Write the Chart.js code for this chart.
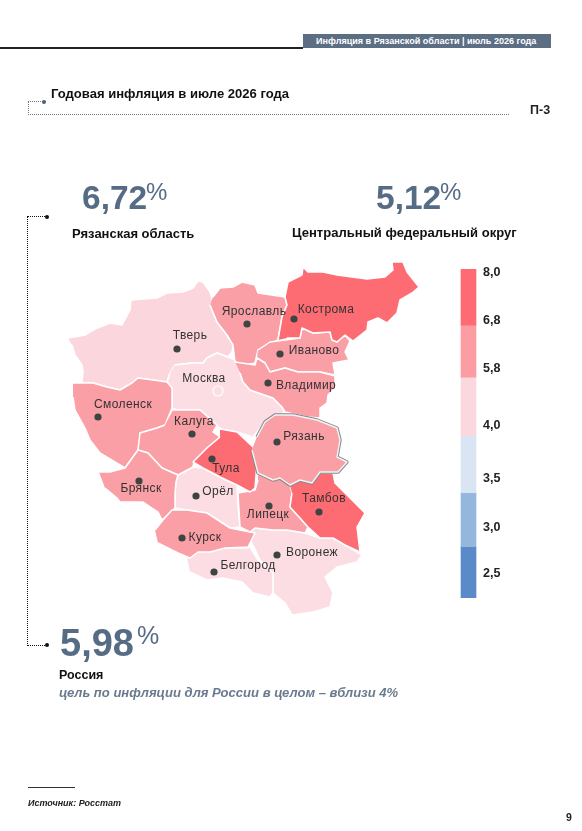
<!DOCTYPE html>
<html lang="ru"><head><meta charset="utf-8">
<script src="https://cdn.jsdelivr.net/npm/chart.js@4"></script>
<style>
html,body{margin:0;padding:0;background:#fff}
body{width:582px;height:831px;position:relative;overflow:hidden;font-family:"Liberation Sans",Arial,sans-serif}
.t{position:absolute;white-space:nowrap;line-height:1}
.r{position:absolute}
canvas{position:absolute;display:block}
.big{font-weight:700;color:#566c85}
.dot{position:absolute;border-radius:50%}
</style></head><body>
<canvas id="map" width="582" height="831" style="left:0;top:0"></canvas>
<canvas id="scale" width="60" height="400" style="left:459px;top:235px"></canvas>

<div class="r" style="left:0;top:47px;width:303px;height:1.5px;background:#222"></div>
<div class="r" style="left:303px;top:34px;width:248px;height:14px;background:#5b6e84"></div>
<div class="t" style="left:316px;top:36.5px;font-size:9.05px;font-weight:700;color:#fff">Инфляция в Рязанской области | июль 2026 года</div>

<div class="t" style="left:51px;top:86.5px;font-size:13.05px;font-weight:700;color:#111">Годовая инфляция в июле 2026 года</div>
<div class="t" style="left:530px;top:104px;font-size:12.5px;font-weight:700;color:#222">П-3</div>
<div class="r" style="left:28px;top:101px;width:480px;height:13px;border-left:1px dotted #777;border-bottom:1px dotted #777"></div>
<div class="r" style="left:28px;top:101px;width:15px;border-top:1px dotted #777"></div>
<div class="dot" style="left:42px;top:99.5px;width:4px;height:4px;background:#4a5f78"></div>

<div class="t big" style="left:82px;top:181px;font-size:33.5px">6,72</div>
<div class="t big" style="left:146px;top:180px;font-size:24px;font-weight:400">%</div>
<div class="t big" style="left:376px;top:181px;font-size:33.5px">5,12</div>
<div class="t big" style="left:440px;top:180px;font-size:24px;font-weight:400">%</div>
<div class="t" style="left:72px;top:227px;font-size:13px;font-weight:700;color:#111">Рязанская область</div>
<div class="t" style="left:292px;top:226px;font-size:13.05px;font-weight:700;color:#111">Центральный федеральный округ</div>

<div class="r" style="left:27px;top:216px;width:19px;height:428px;border-left:1px dotted #111;border-top:1px dotted #111;border-bottom:1px dotted #111"></div>
<div class="dot" style="left:45px;top:214.5px;width:4px;height:4px;background:#111"></div>
<div class="dot" style="left:45px;top:642.5px;width:4px;height:4px;background:#111"></div>

<div class="t big" style="left:60px;top:624px;font-size:38px">5,98</div>
<div class="t big" style="left:137px;top:623px;font-size:25px;font-weight:400">%</div>
<div class="t" style="left:59px;top:669px;font-size:12.5px;font-weight:700;color:#111">Россия</div>
<div class="t" style="left:59px;top:686px;font-size:13.05px;font-weight:700;font-style:italic;color:#6a7a8e">цель по инфляции для России в целом – вблизи 4%</div>

<div class="r" style="left:28px;top:787px;width:47px;height:1px;background:#333"></div>
<div class="t" style="left:28px;top:799px;font-size:9px;font-weight:700;font-style:italic;color:#222">Источник: Росстат</div>
<div class="t" style="left:566px;top:812px;font-size:10.5px;font-weight:700;color:#222">9</div>

<script>
/* ---------- data: region outlines in map units ---------- */
const outlineTver=[[68,338],[85,335],[95,329],[110,323],[122,325],[130,310],[131,300],[143,299],[157,298],[167,293],[183,292],[193,288],[198,281],[203,282],[210,292],[213,302],[210,305],[217,322],[227,335],[233,345],[232,352],[228,357],[217,353],[207,358],[203,363],[192,363],[175,365],[170,373],[167,382],[153,380],[138,378],[132,383],[120,390],[107,387],[93,383],[82,383],[83,372],[82,365],[75,355],[72,345]];
const outlineYaroslavl=[[213,297],[220,288],[233,287],[242,282],[255,285],[258,293],[285,297],[287,305],[282,317],[278,340],[258,350],[255,363],[245,365],[235,362],[233,345],[227,335],[217,322],[210,305]];
const outlineKostroma=[[278,340],[282,317],[287,305],[285,297],[288,282],[302,275],[303,267],[308,272],[323,272],[337,275],[352,277],[367,279],[385,277],[393,270],[392,262],[403,262],[407,272],[419,287],[412,293],[400,300],[397,313],[387,323],[378,318],[368,322],[367,330],[353,341],[345,335],[337,342],[332,340],[330,332],[313,333],[302,328],[300,338],[287,338]];
const outlineIvanovo=[[258,350],[270,342],[300,338],[302,328],[313,333],[330,332],[332,340],[337,342],[345,335],[350,341],[345,352],[349,360],[333,363],[335,375],[320,372],[298,372],[285,368],[270,372],[265,363],[257,358]];
const outlineVladimir=[[235,362],[255,365],[257,358],[265,363],[270,372],[285,368],[298,372],[320,372],[335,376],[335,388],[328,395],[327,403],[320,408],[320,418],[307,417],[285,412],[282,407],[273,398],[250,390],[243,382],[240,373]];
const outlineMoscow=[[175,365],[192,363],[203,363],[207,358],[217,353],[228,357],[235,360],[240,373],[243,382],[250,390],[273,398],[282,407],[285,412],[265,422],[253,437],[237,432],[220,429],[217,425],[200,410],[177,410],[172,408],[172,388],[167,382],[170,373]];
const outlineSmolensk=[[73,383],[93,383],[107,387],[120,390],[132,383],[138,378],[153,380],[167,382],[172,388],[172,408],[165,425],[157,428],[140,433],[140,437],[138,450],[125,468],[100,453],[90,440],[85,428],[75,410],[73,397]];
const outlineKaluga=[[173,410],[200,410],[217,425],[213,432],[220,437],[207,448],[194,462],[193,467],[178,475],[162,468],[148,453],[138,450],[140,433],[157,428],[165,425]];
const outlineTula=[[220,429],[237,432],[253,447],[257,463],[255,488],[250,492],[237,485],[220,477],[203,468],[193,462],[207,448],[220,437]];
const outlineRyazan=[[257,437],[265,422],[275,415],[293,415],[317,420],[337,428],[340,440],[337,457],[347,462],[338,472],[320,472],[312,483],[300,480],[290,485],[280,478],[273,480],[258,473],[252,450]];
const outlineTambov=[[290,485],[300,480],[312,483],[320,473],[333,473],[335,483],[365,513],[357,527],[360,552],[345,545],[333,538],[320,538],[308,527],[300,518],[290,507],[292,493]];
const outlineLipetsk=[[258,473],[273,480],[280,478],[290,485],[292,493],[290,507],[300,518],[308,527],[305,533],[287,530],[273,530],[255,528],[250,532],[240,527],[238,493],[255,490],[258,480]];
const outlineVoronezh=[[250,532],[255,528],[273,530],[287,530],[305,533],[320,538],[333,538],[345,545],[362,555],[357,562],[337,567],[325,577],[333,593],[330,607],[313,612],[292,615],[285,603],[273,593],[273,573],[260,560],[253,545]];
const outlineBelgorod=[[187,558],[198,552],[225,548],[247,548],[250,547],[258,560],[273,573],[273,593],[270,597],[253,593],[242,582],[223,578],[207,580],[190,572]];
const outlineKursk=[[155,530],[163,520],[172,510],[187,510],[207,513],[230,528],[255,533],[248,547],[225,548],[210,552],[198,552],[190,558],[178,553],[158,543]];
const outlineOrel=[[178,475],[193,467],[203,468],[220,477],[237,485],[238,507],[240,527],[230,528],[207,513],[187,510],[175,508],[175,493],[176,482]];
const outlineBryansk=[[99,472],[110,472],[125,468],[138,450],[148,453],[162,468],[178,475],[176,482],[175,493],[175,508],[162,520],[158,512],[143,502],[120,502],[117,498],[105,488]];

const regionOutlines=[outlineTver,outlineMoscow,outlineVoronezh,outlineBelgorod,outlineOrel,outlineYaroslavl,outlineIvanovo,outlineVladimir,outlineSmolensk,outlineKaluga,outlineBryansk,outlineKursk,outlineLipetsk,outlineKostroma,outlineTula,outlineTambov];
const regionBand=['mid','midLight','midLight','midLight','midLight','upper','upper','upper','upper','upper','upper','upper','upper','high','high','high'];

/* ---------- data: cities ---------- */
const cityNames=['Тверь','Смоленск','Калуга','Ярославль','Кострома','Иваново','Владимир','Рязань','Тула','Брянск','Орёл','Липецк','Тамбов','Курск','Воронеж','Белгород'];
const cityDots=[[177,349],[98,417],[192,434],[247,324],[294,319],[280,354],[268,383],[277,442],[212,459],[139,481],[196,496],[269,506],[319,512],[182,538],[277,555],[214,572]];
const cityLabelAt=[[190,336],[123,405],[194,422],[254,312],[326,310],[314,351],[306,386],[304,437],[226,469],[141,489],[218,492],[268,515],[324,499],[205,538],[312,553],[248,566]];
const capitalName='Москва';
const capitalLabelAt=[204,379];
const capitalRing=[218,391];

/* ---------- data: colour scale ---------- */
const scaleLabels=['8,0','6,8','5,8','4,0','3,5','3,0','2,5'];
const scaleBandEdges=[0,1.02,1.97,3.04,4.08,5.07,6];
const scaleLabelAt=[0.05,0.93,1.82,2.85,3.83,4.72,5.56];
const scaleBandColours=['#ff6b72','#fc9da4','#fbd7de','#dae5f4','#95b6dd','#5b8ac8'];

/* ---------- rendering ---------- */
const fills={high:'#fe6c73',upper:'#fa9fa6',mid:'#fbd6dd',midLight:'#fbdde3'};
const toPts=o=>o.map(p=>({x:p[0],y:p[1]}));
const base={showLine:true,fill:'shape',pointRadius:0,tension:0,borderJoinStyle:'round',clip:false};

const regionSets=regionOutlines.map((o,i)=>Object.assign({},base,{
  label:'r'+i,data:toPts(o),backgroundColor:fills[regionBand[i]],borderColor:'#fff',borderWidth:1.5,order:100-i}));
const ryazanSets=[
  Object.assign({},base,{label:'Рязань край',data:toPts(outlineRyazan),backgroundColor:fills.upper,borderColor:'#7f8b8d',borderWidth:3.4,order:20}),
  Object.assign({},base,{label:'Рязань',data:toPts(outlineRyazan),backgroundColor:fills.upper,borderColor:'#f4f4f4',borderWidth:1.4,order:19})
];
const dotSet={label:'города',data:toPts(cityDots),pointRadius:3.6,pointBackgroundColor:'#3c4543',pointBorderWidth:0,showLine:false,order:5};
const ringSet={label:'Москва',data:toPts([capitalRing]),pointRadius:5,pointBackgroundColor:'rgba(0,0,0,0)',pointBorderColor:'#fff',pointBorderWidth:1.2,showLine:false,order:6};

const labelPlugin={id:'cityLabels',afterDatasetsDraw(c){
  const g=c.ctx,x=c.scales.x,y=c.scales.y;
  g.save();g.font='12px "Liberation Sans",Arial,sans-serif';g.fillStyle='#333';g.textAlign='center';g.textBaseline='middle';
  if('letterSpacing' in g)g.letterSpacing='0.4px';
  cityNames.forEach((n,i)=>g.fillText(n,x.getPixelForValue(cityLabelAt[i][0]),y.getPixelForValue(cityLabelAt[i][1])));
  g.fillText(capitalName,x.getPixelForValue(capitalLabelAt[0]),y.getPixelForValue(capitalLabelAt[1]));
  g.restore();
}};

new Chart(document.getElementById('map'),{
  type:'scatter',
  data:{datasets:[...regionSets,...ryazanSets,ringSet,dotSet]},
  options:{responsive:false,animation:false,events:[],layout:{padding:0,autoPadding:false},
    plugins:{legend:{display:false},tooltip:{enabled:false}},
    scales:{x:{type:'linear',display:false,min:0,max:582},y:{type:'linear',display:false,min:0,max:831,reverse:true}}},
  plugins:[labelPlugin]
});

new Chart(document.getElementById('scale'),{
  type:'bar',
  data:{labels:['шкала'],datasets:scaleBandColours.map((col,i)=>({
    label:scaleLabels[i],data:[[scaleBandEdges[i],scaleBandEdges[i+1]]],backgroundColor:col,borderWidth:0,barThickness:15,grouped:false}))},
  options:{responsive:false,animation:false,events:[],layout:{padding:0,autoPadding:false},
    plugins:{legend:{display:false},tooltip:{enabled:false}},
    scales:{
      x:{display:false},
      y:{type:'linear',position:'right',reverse:true,min:-0.401,max:6.456,
        grid:{display:false,drawTicks:false},border:{display:false},
        afterBuildTicks(s){s.ticks=scaleLabelAt.map(v=>({value:v}));},
        afterFit(s){s.width=41;},
        ticks:{autoSkip:false,padding:5,color:'#222',font:{family:'"Liberation Sans",Arial,sans-serif',size:12.5,weight:'bold'},
          callback(v,i){return scaleLabels[i];}}}
    }}
});
</script>
</body></html>
